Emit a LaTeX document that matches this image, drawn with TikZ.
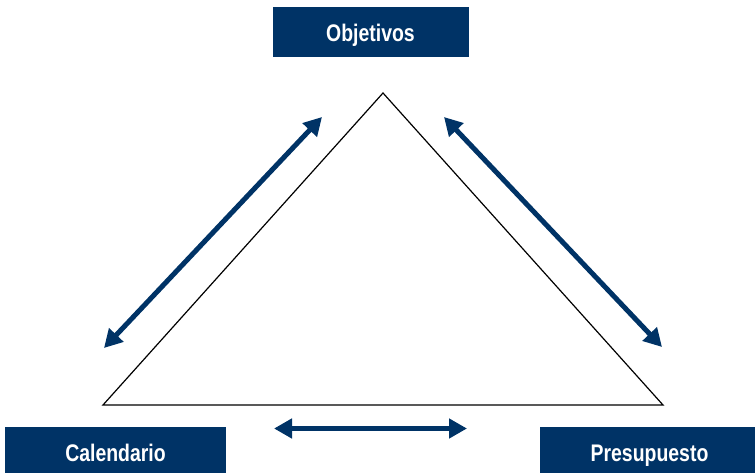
\documentclass[tikz,border=0pt]{standalone}
\usepackage{fontspec}
\setmainfont{Liberation Sans}
\usetikzlibrary{arrows.meta}
\definecolor{navy}{RGB}{0,51,102}
\newcommand{\narrowtxt}[1]{\scalebox{0.81}[1]{#1}}
\begin{document}
\begin{tikzpicture}[x=1pt,y=-1pt,
  labelbox/.style={fill=navy,inner sep=0pt,anchor=center},
  labeltext/.style={text=white,font=\bfseries\fontsize{24}{26}\selectfont,inner sep=0pt,anchor=base},
  dblarrow/.style={draw=navy,line width=5pt,{Triangle[length=18pt,width=19pt]}-{Triangle[length=18pt,width=19pt]}}]
\useasboundingbox (0,0) rectangle (755,473);
% boxes
\node[labelbox,minimum width=196pt,minimum height=50pt] (obj) at (371,32) {};
\node[labeltext] (objT) at (370.5,41.7) {\narrowtxt{Objetivos}};
\node[labelbox,minimum width=221pt,minimum height=46pt] (cal) at (115.5,450) {};
\node[labeltext] (calT) at (115.5,461.7) {\narrowtxt{Calendario}};
\node[labelbox,minimum width=215pt,minimum height=46pt] (pre) at (647.5,450) {};
\node[labeltext] (preT) at (649.5,461.7) {\narrowtxt{Presupuesto}};
% triangle
\coordinate (apex) at (383,93);
\coordinate (bl) at (103,405);
\coordinate (br) at (663,405);
\draw[line width=1.2pt,line join=miter] (apex) -- (bl) -- (br) -- cycle;
% arrows
\coordinate (l1) at (104,348);
\coordinate (l2) at (322,117);
\coordinate (r1) at (444,117);
\coordinate (r2) at (662,347);
\coordinate (b1) at (274,428.5);
\coordinate (b2) at (467,428.5);
\draw[dblarrow] (l1) -- (l2);
\draw[dblarrow] (r1) -- (r2);
\draw[dblarrow] (b1) -- (b2);
\end{tikzpicture}
\end{document}
